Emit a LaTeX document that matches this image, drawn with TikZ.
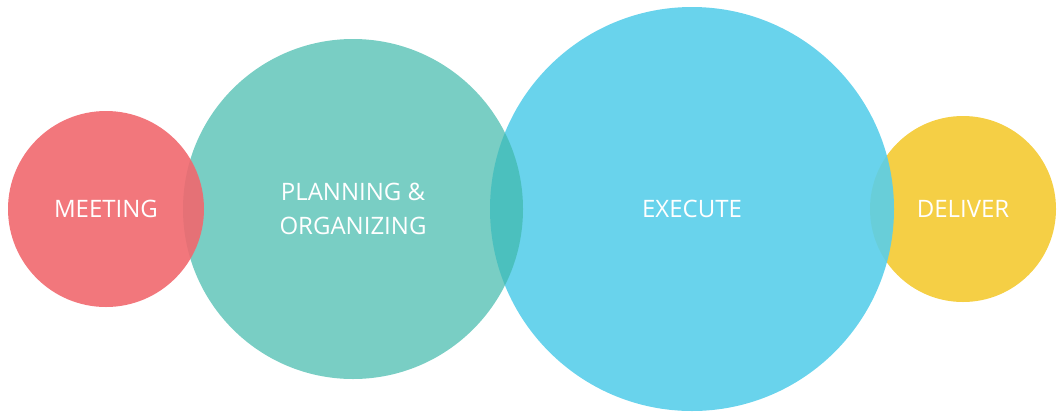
\documentclass[tikz,border=0pt]{standalone}
\usepackage{fontspec}
\setmainfont{Open Sans}
\definecolor{MeetRed}{RGB}{241,104,110}
\definecolor{PlanTeal}{RGB}{64,185,171}
\definecolor{ExecBlue}{RGB}{89,206,234}
\definecolor{DelivYellow}{RGB}{245,207,69}

\begin{document}
\begin{tikzpicture}
    [
        x=1pt,y=-1pt,
        Phase/.style={circle,inner sep=0pt},
        Label/.style={text=white,align=center,font=\fontsize{24}{34}\selectfont}
    ]
    \useasboundingbox (0,0) rectangle (1060,416);
    \node[Phase,fill=DelivYellow,minimum size=186pt] (deliver) at (963,209) {};
    \node[Phase,fill=ExecBlue,fill opacity=0.9,minimum size=404pt] (execute) at (692,209) {};
    \node[Phase,fill=PlanTeal,fill opacity=0.7,minimum size=340pt] (planning) at (353,209) {};
    \node[Phase,fill=MeetRed,fill opacity=0.9,minimum size=196pt] (meeting) at (106,209) {};

    \node[Label] (meeting_text) at (meeting.center) {MEETING};
    \node[Label] (planning_text) at (planning.center) {PLANNING \&\\ORGANIZING};
    \node[Label] (execute_text) at (execute.center) {EXECUTE};
    \node[Label] (deliver_text) at (deliver.center) {DELIVER};
\end{tikzpicture}
\end{document}
